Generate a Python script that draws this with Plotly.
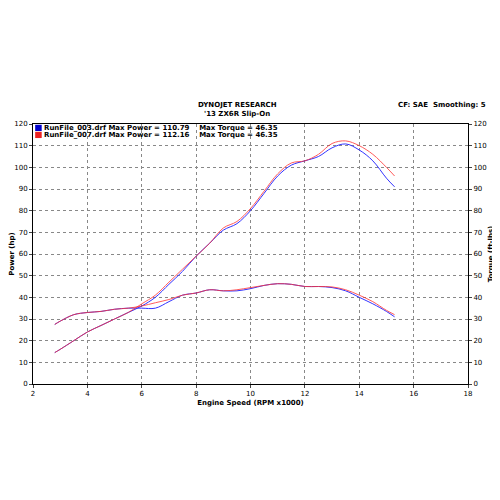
import plotly.graph_objects as go

rpm = [2.8, 3.0, 3.5, 4.0, 4.5, 5.0, 5.5, 6.0, 6.5, 7.0, 7.5, 8.0, 8.5, 9.0, 9.5, 10.0,
       10.5, 11.0, 11.5, 12.0, 12.5, 13.0, 13.5, 14.0, 14.5, 15.0, 15.3]

power_003 = [14.5, 16, 20, 24, 27, 30, 33, 36, 40, 46, 52, 59, 65, 71, 74, 80,
             88, 96, 101, 103, 105, 109, 110.8, 108, 103, 95, 91]
power_007 = [14.5, 16, 20, 24, 27, 30, 33, 37, 41, 47, 53, 59, 65, 72, 75, 81,
             89, 97, 102, 103, 106, 111, 112.2, 110, 106, 100, 96]
torque_003 = [27.5, 29, 32, 33, 33.5, 34.5, 35, 35, 35, 38, 41, 42, 43.5, 43, 43, 44,
              45.5, 46.3, 46, 45, 45, 44.5, 43, 40, 37, 33.5, 31]
torque_007 = [27.5, 29, 32, 33, 33.5, 34.5, 35, 36, 37.5, 39, 41, 42, 43.5, 43, 43.5, 44.5,
              45.5, 46.3, 46, 45, 45, 44.8, 43.5, 41, 38, 34, 32]

blue = '#3333ff'
red = '#ff3333'
font = dict(family='DejaVu Sans', size=7, color='black')

fig = go.Figure()
fig.add_trace(go.Scatter(x=rpm, y=power_003, line=dict(color=blue, width=1), line_shape='spline'))
fig.add_trace(go.Scatter(x=rpm, y=torque_003, line=dict(color=blue, width=1), line_shape='spline'))
fig.add_trace(go.Scatter(x=rpm, y=power_007, line=dict(color=red, width=1), line_shape='spline', opacity=0.8))
fig.add_trace(go.Scatter(x=rpm, y=torque_007, line=dict(color=red, width=1), line_shape='spline', opacity=0.8))
fig.add_trace(go.Scatter(x=[None], y=[None], yaxis='y2'))

grid = dict(showgrid=True, gridcolor='#888', griddash='dot', gridwidth=1,
            showline=True, linecolor='black', linewidth=1, mirror=True,
            ticks='outside', ticklen=3, tickfont=font, zeroline=False, automargin=False)

fig.update_layout(
    width=500, height=500, plot_bgcolor='white', paper_bgcolor='white',
    margin=dict(l=25, r=40, t=116, b=124),
    xaxis=dict(range=[2, 18], dtick=2, title=dict(text='<b>Engine Speed (RPM x1000)</b>', font=font, standoff=2), **grid),
    yaxis=dict(range=[0, 120], dtick=10, title=dict(text='<b>Power (hp)</b>', font=font, standoff=2), **grid),
    yaxis2=dict(range=[0, 120], dtick=10, overlaying='y', side='right', showgrid=False, automargin=False,
                ticks='outside', ticklen=3, tickfont=font,
                title=dict(text='<b>Torque (ft-lbs)</b>', font=font, standoff=2)),
    showlegend=False,
)

for x, y, t, a in [(0.47, 1.073, '<b>DYNOJET RESEARCH</b>', 'center'),
                   (0.47, 1.038, "<b>'13 ZX6R Slip-On</b>", 'center'),
                   (1.046, 1.073, '<b>CF: SAE  Smoothing: 5</b>', 'right'),
                   (0.02, 0.985, '<b>RunFile_003.drf Max Power = 110.79    Max Torque = 46.35</b>', 'left'),
                   (0.02, 0.958, '<b>RunFile_007.drf Max Power = 112.16    Max Torque = 46.35</b>', 'left')]:
    fig.add_annotation(x=x, y=y, xref='paper', yref='paper', xanchor=a, yanchor='middle',
                       text=t, showarrow=False, font=font)

fig.add_shape(type='rect', xref='paper', yref='paper', x0=0.005, x1=0.02, y0=0.973, y1=0.997,
              fillcolor='#0000cc', line=dict(width=0))
fig.add_shape(type='rect', xref='paper', yref='paper', x0=0.005, x1=0.02, y0=0.946, y1=0.970,
              fillcolor='#ee2222', line=dict(width=0))

fig.write_html('out.html')
